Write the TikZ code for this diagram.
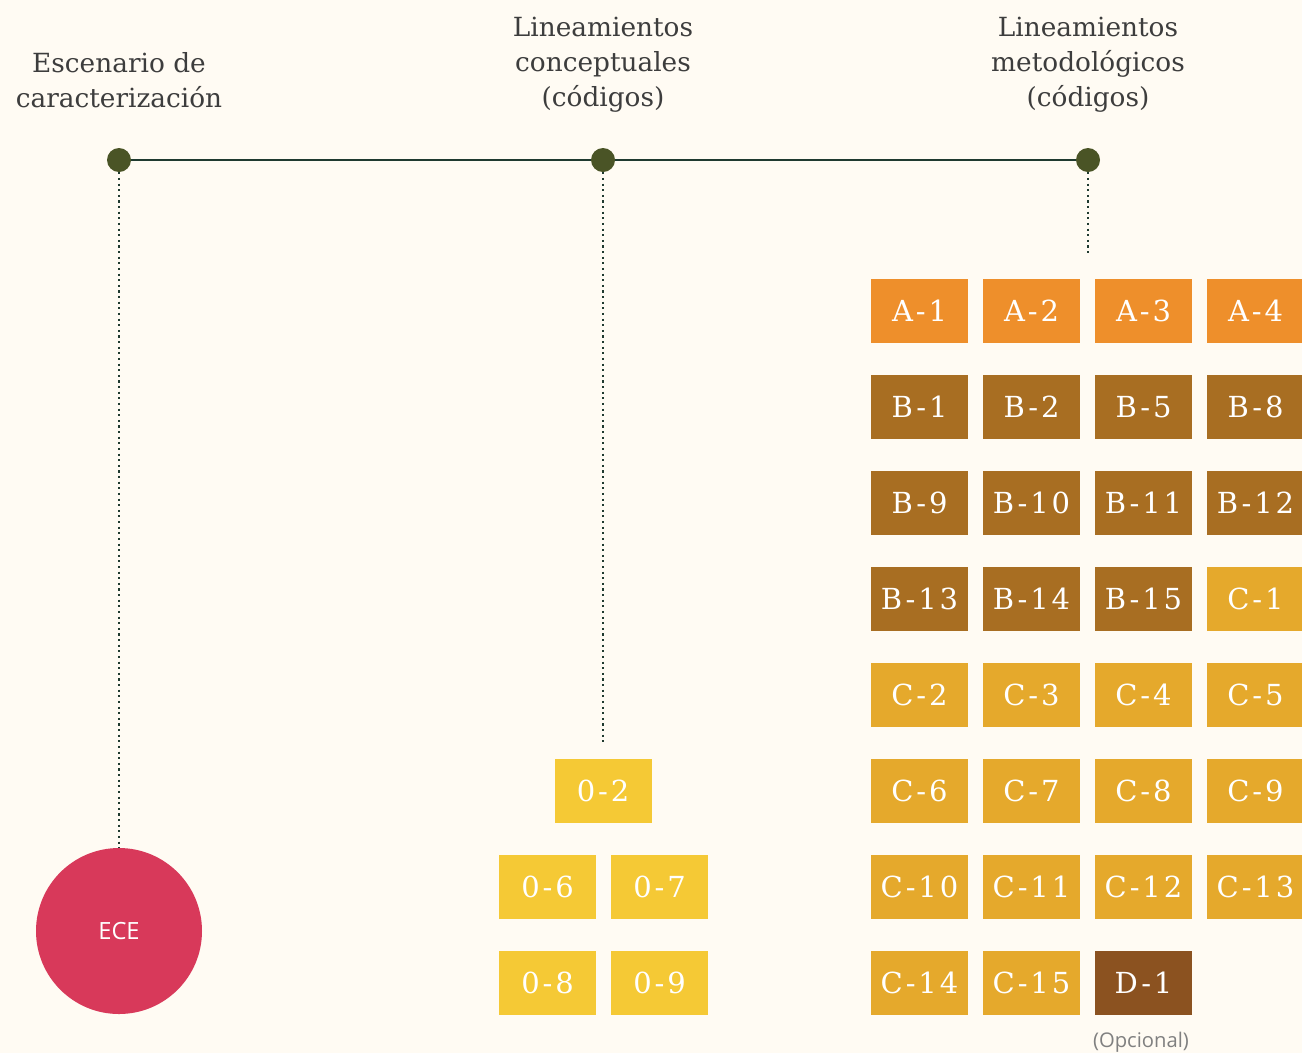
\documentclass[tikz,border=0pt]{standalone}
\usepackage{fontspec}
\setmainfont{DejaVu Serif}
\newfontfamily\opensans{Open Sans}
\usepackage{xcolor}
\definecolor{fondo}{HTML}{FFFBF3}
\definecolor{linea}{HTML}{1F3A2F}
\definecolor{punto}{HTML}{4A5426}
\definecolor{rojo}{HTML}{D8395A}
\definecolor{naranja}{HTML}{EE8F2B}
\definecolor{cafe}{HTML}{A86E22}
\definecolor{dorado}{HTML}{E5A92C}
\definecolor{oscuro}{HTML}{8B5220}
\definecolor{amarillo}{HTML}{F5C935}
\definecolor{texto}{HTML}{3D3D3D}
\tikzset{
  hito/.style={circle,fill=punto,minimum size=4.8mm,inner sep=0pt},
  titulo/.style={align=center,text=texto,font=\fontsize{15}{19.8}\selectfont},
  codigo/.style={minimum width=19.4mm,minimum height=12.8mm,inner sep=0pt,text=white,font=\fontsize{16.5}{18}\selectfont\addfontfeature{LetterSpace=10}},
  guia/.style={linea,dotted,line width=1.2pt}
}

\begin{document}
\begin{tikzpicture}[y=-1cm]
\fill[fondo] (0,0) rectangle (26.04,21.06);
\useasboundingbox (0,0) rectangle (26.04,21.06);

% titulos
\draw (2.38,1.6) node[titulo](escenario) {Escenario de\\caracterización};
\draw (12.06,1.29) node[titulo](conceptual) {Lineamientos\\conceptuales\\(códigos)};
\draw (21.76,1.29) node[titulo](metodo) {Lineamientos\\metodológicos\\(códigos)};

% linea de tiempo
\draw (2.38,3.2) node[hito](p1) {};
\draw (12.06,3.2) node[hito](p2) {};
\draw (21.76,3.2) node[hito](p3) {};
\draw[linea,line width=1.6pt] (p1) -- (p2) -- (p3);

% escenario
\draw (2.38,18.62) node[circle,fill=rojo,minimum size=33.2mm,inner sep=0pt,text=white,font=\opensans\fontsize{13.5}{14}\selectfont](ece) {ECE};
\draw[guia] (p1) -- (ece);

% conceptuales
\draw (12.06,15.82) node[codigo,fill=amarillo](o2) {0-2};
\draw (10.95,17.74) node[codigo,fill=amarillo](o6) {0-6};
\draw (13.19,17.74) node[codigo,fill=amarillo](o7) {0-7};
\draw (10.95,19.66) node[codigo,fill=amarillo](o8) {0-8};
\draw (13.19,19.66) node[codigo,fill=amarillo](o9) {0-9};
\coordinate (c2) at (12.06,14.9);
\draw[guia] (p2) -- (c2);

% metodologicos
\coordinate (c3) at (21.76,5.1);
\draw[guia] (p3) -- (c3);
\draw (18.39,6.22) node[codigo,fill=naranja](a1) {A-1};
\draw (20.63,6.22) node[codigo,fill=naranja](a2) {A-2};
\draw (22.87,6.22) node[codigo,fill=naranja](a3) {A-3};
\draw (25.11,6.22) node[codigo,fill=naranja](a4) {A-4};
\draw (18.39,8.14) node[codigo,fill=cafe](b1) {B-1};
\draw (20.63,8.14) node[codigo,fill=cafe](b2) {B-2};
\draw (22.87,8.14) node[codigo,fill=cafe](b5) {B-5};
\draw (25.11,8.14) node[codigo,fill=cafe](b8) {B-8};
\draw (18.39,10.06) node[codigo,fill=cafe](b9) {B-9};
\draw (20.63,10.06) node[codigo,fill=cafe](b10) {B-10};
\draw (22.87,10.06) node[codigo,fill=cafe](b11) {B-11};
\draw (25.11,10.06) node[codigo,fill=cafe](b12) {B-12};
\draw (18.39,11.98) node[codigo,fill=cafe](b13) {B-13};
\draw (20.63,11.98) node[codigo,fill=cafe](b14) {B-14};
\draw (22.87,11.98) node[codigo,fill=cafe](b15) {B-15};
\draw (25.11,11.98) node[codigo,fill=dorado](k1) {C-1};
\draw (18.39,13.90) node[codigo,fill=dorado](k2) {C-2};
\draw (20.63,13.90) node[codigo,fill=dorado](k3) {C-3};
\draw (22.87,13.90) node[codigo,fill=dorado](k4) {C-4};
\draw (25.11,13.90) node[codigo,fill=dorado](k5) {C-5};
\draw (18.39,15.82) node[codigo,fill=dorado](k6) {C-6};
\draw (20.63,15.82) node[codigo,fill=dorado](k7) {C-7};
\draw (22.87,15.82) node[codigo,fill=dorado](k8) {C-8};
\draw (25.11,15.82) node[codigo,fill=dorado](k9) {C-9};
\draw (18.39,17.74) node[codigo,fill=dorado](k10) {C-10};
\draw (20.63,17.74) node[codigo,fill=dorado](k11) {C-11};
\draw (22.87,17.74) node[codigo,fill=dorado](k12) {C-12};
\draw (25.11,17.74) node[codigo,fill=dorado](k13) {C-13};
\draw (18.39,19.66) node[codigo,fill=dorado](k14) {C-14};
\draw (20.63,19.66) node[codigo,fill=dorado](k15) {C-15};
\draw (22.87,19.66) node[codigo,fill=oscuro](d1) {D-1};
\draw (22.82,20.84) node[text=gray,font=\opensans\fontsize{11.5}{12}\selectfont](opcional) {(Opcional)};
\end{tikzpicture}
\end{document}
